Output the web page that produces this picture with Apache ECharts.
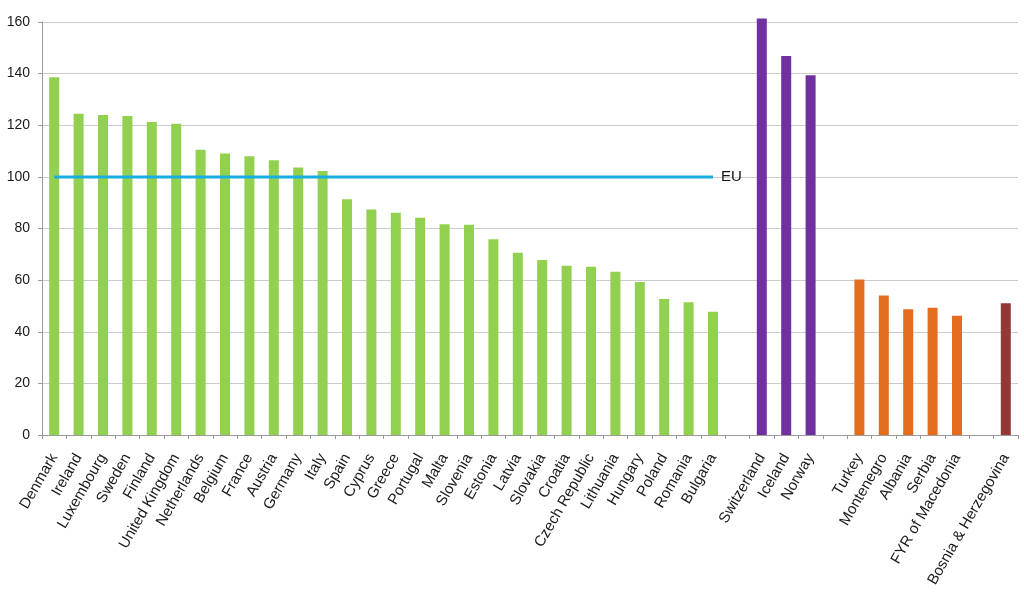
<!DOCTYPE html>
<html>
<head>
<meta charset="utf-8">
<script src="https://cdn.jsdelivr.net/npm/echarts@6/dist/echarts.min.js"></script>
<style>html,body{margin:0;padding:0;background:#fff}#c{width:1024px;height:599px}</style>
</head>
<body>
<div id="c"></div>
<script>
// ---- data ----
var euCountries = ['Denmark','Ireland','Luxembourg','Sweden','Finland','United Kingdom','Netherlands','Belgium','France','Austria','Germany','Italy','Spain','Cyprus','Greece','Portugal','Malta','Slovenia','Estonia','Latvia','Slovakia','Croatia','Czech Republic','Lithuania','Hungary','Poland','Romania','Bulgaria'];
var euValues = [138.6,124.5,124.0,123.6,121.3,120.6,110.5,109.1,108.0,106.4,103.6,102.3,91.3,87.4,86.1,84.2,81.6,81.5,75.8,70.6,67.8,65.6,65.2,63.2,59.3,52.7,51.4,47.7];
var eftaCountries = ['Switzerland','Iceland','Norway'];
var eftaValues = [161.4,146.8,139.4];
var candCountries = ['Turkey','Montenegro','Albania','Serbia','FYR of Macedonia'];
var candValues = [60.2,54.0,48.7,49.3,46.2];
var potCountries = ['Bosnia & Herzegovina'];
var potValues = [51.0];
var euAverage = 100;
var euLabel = 'EU';
var yTicks = [0,20,40,60,80,100,120,140,160];

// ---- build category axis with gaps ----
var groups = [
  {names: euCountries, values: euValues, color: '#92D050'},
  {names: eftaCountries, values: eftaValues, color: '#7030A0'},
  {names: candCountries, values: candValues, color: '#E46C1E'},
  {names: potCountries, values: potValues, color: '#953735'}
];
var categories = [];
var seriesData = groups.map(function(){return [];});
groups.forEach(function(g, gi){
  if (gi > 0) {
    categories.push('');
    seriesData.forEach(function(d){ d.push(null); });
  }
  g.names.forEach(function(n, i){
    categories.push(n);
    seriesData.forEach(function(d, di){ d.push(di === gi ? g.values[i] : null); });
  });
});
var euLine = euCountries.map(function(){ return euAverage; });

var series = groups.map(function(g, gi){
  return {
    type: 'bar', data: seriesData[gi], barWidth: 10, barGap: '-100%',
    itemStyle: {color: g.color}, clip: false, silent: true, animation: false
  };
});
series.push({
  type: 'line', data: euLine, symbol: 'none', lineStyle: {color: '#1AADE4', width: 3},
  endLabel: {show: true, formatter: euLabel, distance: 8, color: '#111', fontSize: 15, fontFamily: 'Liberation Sans, Arial, sans-serif'},
  animation: false, silent: true, z: 5
});

var chart = echarts.init(document.getElementById('c'));
chart.setOption({
  animation: false,
  grid: {left: 42, right: 6, top: 22, bottom: 164, containLabel: false},
  xAxis: {
    type: 'category', data: categories, boundaryGap: true,
    axisLine: {lineStyle: {color: '#9a9a9a', width: 1}},
    axisTick: {show: true, alignWithLabel: false, length: 4, lineStyle: {color: '#9a9a9a'}},
    axisLabel: {interval: 0, rotate: 60, margin: 20, color: '#1a1a1a', fontSize: 15, fontFamily: 'Liberation Sans, Arial, sans-serif'},
    splitLine: {show: false}
  },
  yAxis: {
    type: 'value', min: yTicks[0], max: yTicks[yTicks.length-1], interval: 20,
    axisLine: {show: true, lineStyle: {color: '#9a9a9a'}},
    axisTick: {show: true, length: 4, lineStyle: {color: '#9a9a9a'}},
    axisLabel: {color: '#1a1a1a', fontSize: 14, margin: 12, fontFamily: 'Liberation Sans, Arial, sans-serif'},
    splitLine: {show: true, lineStyle: {color: '#cccccc', width: 1}}
  },
  series: series
});
</script>
</body>
</html>
